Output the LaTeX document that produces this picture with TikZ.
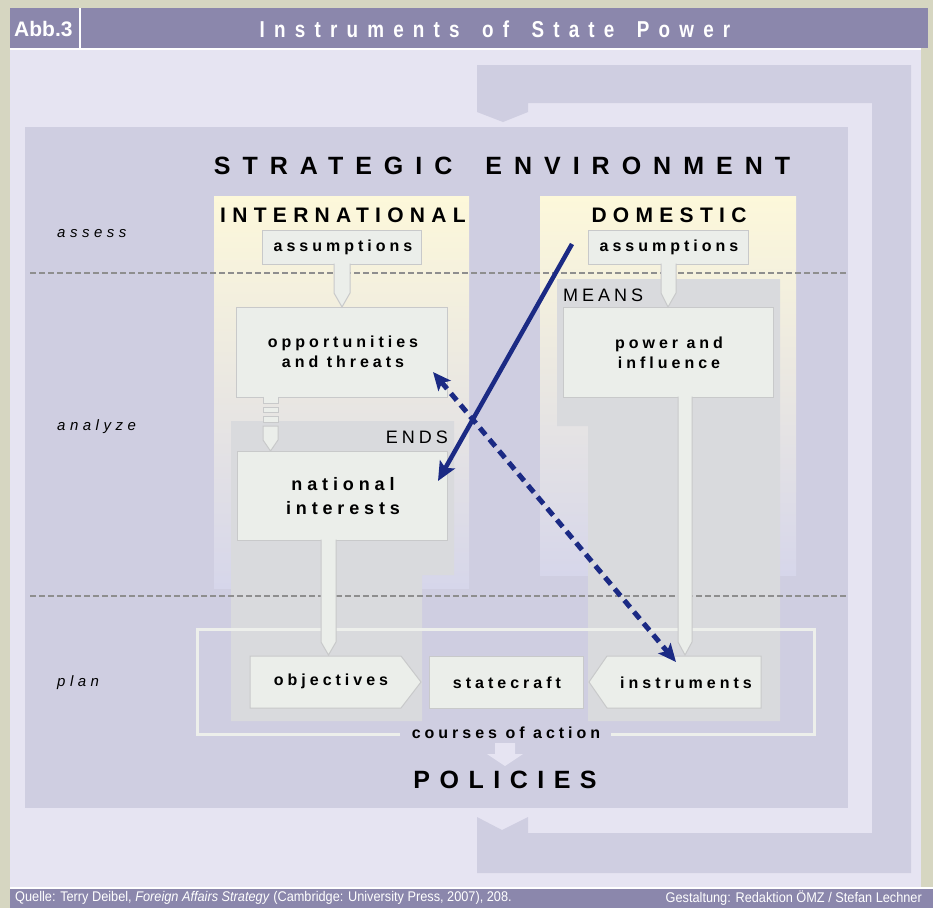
\documentclass[tikz,border=0pt]{standalone}
\usepackage{fontspec}
\setmainfont{Liberation Sans}
\usetikzlibrary{arrows.meta}
\definecolor{olive}{HTML}{D6D6C1}
\definecolor{headbar}{HTML}{8B87AC}
\definecolor{pale}{HTML}{E6E4F2}
\definecolor{panel}{HTML}{CFCEE1}
\definecolor{cream}{HTML}{FDF8DA}
\definecolor{midfade}{HTML}{F1F0E8}
\definecolor{fadeend}{HTML}{D6D6EA}
\definecolor{zone}{HTML}{D9DADD}
\definecolor{boxfill}{HTML}{EBEEEA}
\definecolor{boxline}{HTML}{C8C9CA}
\definecolor{bracket}{HTML}{EDEFEB}
\definecolor{navy}{HTML}{1B2A84}
\definecolor{rulegray}{HTML}{8E8E8E}

\begin{document}
\begin{tikzpicture}[x=1pt,y=-1pt,inner sep=0pt,
    box/.style={fill=boxfill,draw=boxline,line width=1pt},
    zonetext/.style={font=\fontsize{18}{22}\selectfont\addfontfeature{LetterSpace=22}},
    stagetext/.style={font=\itshape\fontsize{15}{18}\selectfont\addfontfeature{LetterSpace=30}},
    headtext/.style={font=\bfseries\fontsize{21}{25}\selectfont\addfontfeature{LetterSpace=30}},
    bigtext/.style={font=\bfseries\fontsize{25}{30}\selectfont\addfontfeature{LetterSpace=48}},
    boxtext/.style={font=\bfseries\fontsize{16}{20}\selectfont\addfontfeature{LetterSpace=25},align=center},
    foot/.style={text=white,font=\fontsize{14}{16}\selectfont\addfontfeature{FakeStretch=0.91}},
    navyline/.style={draw=navy,line width=4.5pt},
    phaseline/.style={draw=rulegray,line width=2pt,dash pattern=on 6pt off 3pt}]
\useasboundingbox (0,0) rectangle (933,908);
\fill[olive] (0,0) rectangle (933,908);
\fill[pale] (10,48) rectangle (921,888);
\fill[headbar] (10,8) rectangle (928,48);
\fill[headbar] (10,888) rectangle (933,908);
\draw[white,line width=1.5pt] (10,49) -- (921,49);
\draw[white,line width=1.5pt] (10,888) -- (933,888);
\draw[white,line width=1.5pt] (80,8) -- (80,48);
\node[anchor=west,text=white,font=\bfseries\fontsize{21}{25}\selectfont] (abb) at (14,29) {Abb.3};
\node[text=white,font=\bfseries\fontsize{23}{27}\selectfont\addfontfeature{FakeStretch=0.82,LetterSpace=40}] (title) at (495,29) {Instruments \hspace{8pt}of \hspace{8pt}State \hspace{8pt}Power};
\node[foot,anchor=west] (source) at (15,898) {Quelle: Terry Deibel, \textit{Foreign Affairs Strategy} (Cambridge: University Press, 2007), 208.};
\node[foot,anchor=east] (design) at (922,898) {Gestaltung: Redaktion ÖMZ / Stefan Lechner};

\fill[panel] (477,817) -- (502,830) -- (528,817) -- (528,833) -- (872,833) -- (872,103) -- (528,103) -- (528,112) -- (503,122) -- (477,112) -- (477,65) -- (911,65) -- (911,873) -- (477,873) -- cycle;
\fill[panel] (25,127) rectangle (848,808);

\shade[top color=cream,middle color=midfade,bottom color=fadeend] (214,196) rectangle (469,588);
\shade[top color=cream,middle color=midfade,bottom color=fadeend] (540,196) rectangle (796,575);
\fill[zone] (231,421) -- (454,421) -- (454,575) -- (422,575) -- (422,721) -- (231,721) -- cycle;
\fill[zone] (557,279) -- (780,279) -- (780,721) -- (588,721) -- (588,426) -- (557,426) -- cycle;

\draw[phaseline] (30,273) -- (848,273);
\draw[phaseline] (30,596) -- (848,596);
\draw[bracket,line width=3pt] (400,734) -- (197,734) -- (197,629) -- (814,629) -- (814,734) -- (611,734);

\node[bigtext] (env) at (502,166) {STRATEGIC \hspace{14pt}ENVIRONMENT};
\node[headtext] (intl) at (343,215) {INTERNATIONAL};
\node[headtext] (dom) at (669,215) {DOMESTIC};
\node[zonetext,anchor=east] (ends) at (448,437) {ENDS};
\node[zonetext,anchor=west] (means) at (563,295) {MEANS};
\node[stagetext,anchor=west] (assess) at (57,234) {assess};
\node[stagetext,anchor=west] (analyze) at (57,427) {analyze};
\node[stagetext,anchor=west] (plan) at (57,683) {plan};

\draw[box] (262,230) rectangle (421,264);
\draw[box] (588,230) rectangle (748,264);
\draw[box] (236,307) rectangle (447,397);
\draw[box] (563,307) rectangle (773,397);
\draw[box] (237,451) rectangle (447,540);
\filldraw[box] (334,263.5) -- (334,293) -- (342,307) -- (350,293) -- (350,263.5);
\filldraw[box] (661,263.5) -- (661,293) -- (668,307) -- (676,293) -- (676,263.5);
\filldraw[box] (263,396.5) -- (263,403) -- (278,403) -- (278,396.5);
\draw[box] (263,407) rectangle (278,412);
\draw[box] (263,416) rectangle (278,422);
\draw[box] (263,426) -- (263,440) -- (270.5,451) -- (278,440) -- (278,426) -- cycle;
\filldraw[box] (321,539.5) -- (321,642) -- (328.5,655) -- (336,642) -- (336,539.5);
\filldraw[box] (678,396.5) -- (678,642) -- (685,655) -- (692,642) -- (692,396.5);
\draw[box] (250,656) -- (401,656) -- (421,682) -- (401,708) -- (250,708) -- cycle;
\draw[box] (429,656) rectangle (583,708);
\draw[box] (589,682) -- (607,656) -- (761,656) -- (761,708) -- (607,708) -- cycle;

\node[boxtext] (intassume) at (343,247) {assumptions};
\node[boxtext] (domassume) at (669,247) {assumptions};
\node[boxtext] (threats) at (343,352) {opportunities\\and threats};
\node[boxtext] (power) at (669,353) {power and\\influence};
\node[boxtext,font=\bfseries\fontsize{18}{24}\selectfont\addfontfeature{LetterSpace=27}] (interests) at (343,496) {national\\interests};
\node[boxtext] (objectives) at (331,681) {objectives};
\node[boxtext] (statecraft) at (507,683) {statecraft};
\node[boxtext] (instruments) at (686,683) {instruments};
\node[boxtext] (courses) at (506,733) {courses of action};
\fill[pale] (495,743) -- (515,743) -- (515,754) -- (523,754) -- (505,766) -- (487,754) -- (495,754) -- cycle;
\node[bigtext,font=\bfseries\fontsize{25}{30}\selectfont\addfontfeature{LetterSpace=38}] (policies) at (505,780) {POLICIES};

\coordinate (domstart) at (572,244);
\coordinate (inttip) at (438,481);
\coordinate (threattip) at (433,372);
\coordinate (instrtip) at (676,662);
\draw[navyline,line width=5pt,dash pattern=on 9pt off 6pt,{Stealth[length=18pt,width=16pt,inset=4pt]}-{Stealth[length=18pt,width=16pt,inset=4pt]}] (threattip) -- (instrtip);
\draw[navyline,-{Stealth[length=19pt,width=17pt,inset=4pt]}] (domstart) -- (inttip);
\end{tikzpicture}
\end{document}
